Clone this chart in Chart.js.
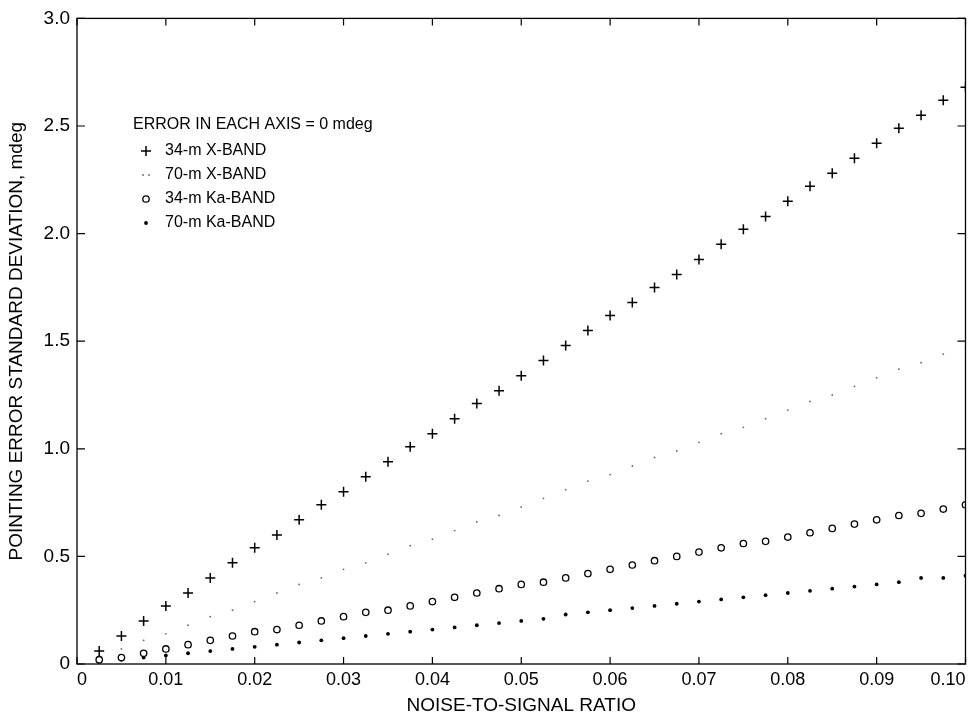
<!DOCTYPE html>
<html>
<head>
<meta charset="utf-8">
<script src="https://cdn.jsdelivr.net/npm/chart.js@4.4.1/dist/chart.umd.min.js"></script>
<style>
  html, body { margin: 0; padding: 0; background: #fff; }
  #wrap { width: 972px; height: 719px; }
</style>
</head>
<body>
<div id="wrap"><canvas id="plot" width="972" height="719"></canvas></div>
<script>
// noise-to-signal ratio for every sample
var ratio = [0.0025, 0.005, 0.0075, 0.01, 0.0125, 0.015, 0.0175, 0.02, 0.0225, 0.025,
  0.0275, 0.03, 0.0325, 0.035, 0.0375, 0.04, 0.0425, 0.045, 0.0475, 0.05,
  0.0525, 0.055, 0.0575, 0.06, 0.0625, 0.065, 0.0675, 0.07, 0.0725, 0.075,
  0.0775, 0.08, 0.0825, 0.085, 0.0875, 0.09, 0.0925, 0.095, 0.0975, 0.1];

var seriesNames = ["34-m X-BAND", "70-m X-BAND", "34-m Ka-BAND", "70-m Ka-BAND"];

var x34 = [0.06, 0.13, 0.20, 0.27, 0.33, 0.40, 0.47, 0.54, 0.60, 0.67,
  0.74, 0.80, 0.87, 0.94, 1.01, 1.07, 1.14, 1.21, 1.27, 1.34,
  1.41, 1.48, 1.55, 1.62, 1.68, 1.75, 1.81, 1.88, 1.95, 2.02,
  2.08, 2.15, 2.22, 2.28, 2.35, 2.42, 2.49, 2.55, 2.62, 2.68];
var x70 = [0.04, 0.07, 0.11, 0.14, 0.18, 0.22, 0.25, 0.29, 0.33, 0.37,
  0.40, 0.44, 0.47, 0.51, 0.55, 0.58, 0.62, 0.66, 0.69, 0.73,
  0.77, 0.81, 0.85, 0.88, 0.92, 0.96, 0.99, 1.03, 1.07, 1.10,
  1.14, 1.18, 1.22, 1.25, 1.29, 1.33, 1.37, 1.40, 1.44, 1.47];
var ka34 = [0.02, 0.03, 0.05, 0.07, 0.09, 0.11, 0.13, 0.15, 0.16, 0.18,
  0.20, 0.22, 0.24, 0.25, 0.27, 0.29, 0.31, 0.33, 0.35, 0.37,
  0.38, 0.40, 0.42, 0.44, 0.46, 0.48, 0.50, 0.52, 0.54, 0.56,
  0.57, 0.59, 0.61, 0.63, 0.65, 0.67, 0.69, 0.70, 0.72, 0.74];
var ka70 = [0.01, 0.02, 0.03, 0.04, 0.05, 0.06, 0.07, 0.08, 0.09, 0.10,
  0.11, 0.12, 0.13, 0.14, 0.15, 0.16, 0.17, 0.18, 0.19, 0.20,
  0.21, 0.23, 0.24, 0.25, 0.26, 0.27, 0.28, 0.29, 0.30, 0.31,
  0.32, 0.33, 0.34, 0.35, 0.36, 0.37, 0.38, 0.40, 0.40, 0.41];

var xTicks = [0, 0.01, 0.02, 0.03, 0.04, 0.05, 0.06, 0.07, 0.08, 0.09, 0.10];
var yTicks = [0, 0.5, 1.0, 1.5, 2.0, 2.5, 3.0];

function pts(vals) {
  return ratio.map(function (r, i) { return { x: r, y: vals[i] }; });
}

var FONT = "'Liberation Sans', Arial, Helvetica, sans-serif";

var styles = [
  { pointStyle: "cross", pointRadius: 5, pointBorderWidth: 1.5, borderColor: "#000", backgroundColor: "#000" },
  { pointStyle: "circle", pointRadius: 0.9, pointBorderWidth: 0, borderColor: "#666", backgroundColor: "#666" },
  { pointStyle: "circle", pointRadius: 3.2, pointBorderWidth: 1.3, borderColor: "#000", backgroundColor: "#fff" },
  { pointStyle: "circle", pointRadius: 1.9, pointBorderWidth: 0, borderColor: "#000", backgroundColor: "#000" }
];

var seriesData = [x34, x70, ka34, ka70];

var datasets = seriesData.map(function (vals, i) {
  return Object.assign({ label: seriesNames[i], data: pts(vals), showLine: false }, styles[i]);
});

// frame around the plot with inward tick marks on all four sides
var framePlugin = {
  id: "frame",
  afterDraw: function (chart) {
    var ctx = chart.ctx, a = chart.chartArea;
    var xs = chart.scales.x, ys = chart.scales.y;
    ctx.save();
    ctx.strokeStyle = "#000";
    ctx.lineWidth = 1.3;
    ctx.strokeRect(a.left, a.top, a.right - a.left, a.bottom - a.top);
    ctx.lineWidth = 1.2;
    ctx.beginPath();
    xTicks.forEach(function (v) {
      var px = xs.getPixelForValue(v);
      ctx.moveTo(px, a.bottom); ctx.lineTo(px, a.bottom - 7);
      ctx.moveTo(px, a.top); ctx.lineTo(px, a.top + 7);
    });
    yTicks.forEach(function (v) {
      var py = ys.getPixelForValue(v);
      ctx.moveTo(a.left, py); ctx.lineTo(a.left + 8, py);
      ctx.moveTo(a.right, py); ctx.lineTo(a.right - 8, py);
    });
    ctx.stroke();
    ctx.restore();
  }
};

// legend block inside the plot
var legendPlugin = {
  id: "innerLegend",
  afterDraw: function (chart) {
    var ctx = chart.ctx;
    ctx.save();
    ctx.fillStyle = "#000";
    ctx.font = "16px " + FONT;
    ctx.textBaseline = "middle";
    ctx.fillText("ERROR IN EACH AXIS = 0 mdeg", 133, 125);
    seriesNames.forEach(function (name, i) {
      var y = 151 + i * 24;
      var st = styles[i];
      ctx.fillStyle = "#000";
      ctx.fillText(name, 165, y);
      ctx.strokeStyle = st.borderColor;
      ctx.fillStyle = st.backgroundColor;
      ctx.lineWidth = st.pointBorderWidth;
      if (i === 1) {
        Chart.helpers.drawPoint(ctx, { pointStyle: "circle", radius: 0.9, borderWidth: 0 }, 143, y);
        Chart.helpers.drawPoint(ctx, { pointStyle: "circle", radius: 0.9, borderWidth: 0 }, 149, y);
      } else {
        Chart.helpers.drawPoint(ctx, { pointStyle: st.pointStyle, radius: st.pointRadius, borderWidth: st.pointBorderWidth }, 146, y);
      }
    });
    ctx.restore();
  }
};

var ctx = document.getElementById("plot").getContext("2d");
var chart = new Chart(ctx, {
  type: "scatter",
  data: { datasets: datasets },
  options: {
    responsive: false,
    animation: false,
    layout: { padding: { top: 17, right: 6, left: 0, bottom: 0 } },
    plugins: { legend: { display: false }, tooltip: { enabled: false } },
    scales: {
      x: {
        type: "linear",
        min: 0,
        max: 0.1,
        afterBuildTicks: function (s) { s.ticks = xTicks.map(function (v) { return { value: v }; }); },
        afterFit: function (s) { s.height = 55; },
        ticks: {
          align: "inner",
          padding: 5,
          color: "#000",
          font: { family: FONT, size: 18 },
          maxRotation: 0,
          callback: function (v) { return v === 0 ? "0" : v.toFixed(2); }
        },
        grid: { display: false, drawTicks: false },
        border: { display: false },
        title: {
          display: true,
          text: "NOISE-TO-SIGNAL RATIO",
          color: "#000",
          font: { family: FONT, size: 19 },
          padding: { top: 0, bottom: 2 }
        }
      },
      y: {
        min: 0,
        max: 3,
        afterBuildTicks: function (s) { s.ticks = yTicks.map(function (v) { return { value: v }; }); },
        afterFit: function (s) { s.width = 77; },
        ticks: {
          padding: 7,
          color: "#000",
          font: { family: FONT, size: 19 },
          callback: function (v) { return v === 0 ? "0" : v.toFixed(1); }
        },
        grid: { display: false, drawTicks: false },
        border: { display: false },
        title: {
          display: true,
          text: "POINTING ERROR STANDARD DEVIATION, mdeg",
          color: "#000",
          font: { family: FONT, size: 19 },
          padding: { top: 5, bottom: 0 }
        }
      }
    }
  },
  plugins: [framePlugin, legendPlugin]
});
</script>
</body>
</html>
